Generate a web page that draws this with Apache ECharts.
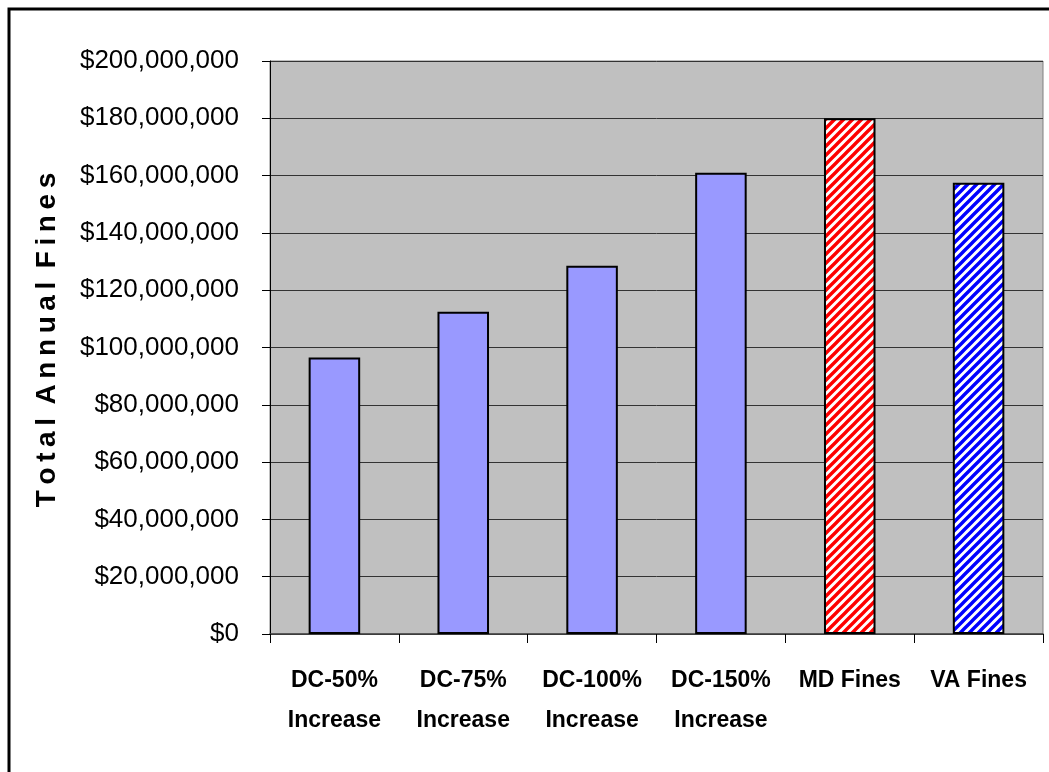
<!DOCTYPE html>
<html>
<head>
<meta charset="utf-8">
<script src="https://cdn.jsdelivr.net/npm/echarts@6/dist/echarts.min.js"></script>
<style>
  html, body { margin: 0; padding: 0; background: #ffffff; }
  #chart { width: 1049px; height: 772px; }
</style>
</head>
<body>
<div id="chart"></div>
<script>
// Scenario names shown under each bar
const categories = [
  'DC-50%\nIncrease',
  'DC-75%\nIncrease',
  'DC-100%\nIncrease',
  'DC-150%\nIncrease',
  'MD Fines',
  'VA Fines'
];
// Total annual fines per scenario, in dollars
const fines = [96500000, 112500000, 128500000, 161000000, 180000000, 157500000];
// Value axis range and step
const yMin = 0;
const yMax = 200000000;
const yStep = 20000000;
// Axis title, letter-spaced with thin spaces
const yTitle = 'Total Annual Fines';

function spaced(s) {
  return s.split(' ').map(w => w.split('').join('\u2009')).join(' \u2009');
}

// Diagonal-stripe fill tile ("/" hatch)
function stripeTile(color) {
  const size = 9;
  const c = document.createElement('canvas');
  c.width = size; c.height = size;
  const g = c.getContext('2d');
  g.fillStyle = '#ffffff';
  g.fillRect(0, 0, size, size);
  g.strokeStyle = color;
  g.lineWidth = 3.4;
  g.beginPath();
  g.moveTo(-size, size * 2); g.lineTo(size * 2, -size);
  g.moveTo(-size, size); g.lineTo(size, -size);
  g.moveTo(0, size * 2); g.lineTo(size * 2, 0);
  g.stroke();
  return { image: c, repeat: 'repeat' };
}

const fills = [
  '#9999FF', '#9999FF', '#9999FF', '#9999FF',
  stripeTile('#FF0000'),
  stripeTile('#0000FF')
];

function money(v) {
  return '$' + Math.round(v).toString().replace(/\B(?=(\d{3})+(?!\d))/g, ',');
}

const sans = '"Liberation Sans", Arial, sans-serif';

const chart = echarts.init(document.getElementById('chart'), null, { renderer: 'canvas' });
chart.setOption({
  animation: false,
  backgroundColor: '#ffffff',
  graphic: [
    {
      type: 'rect',
      shape: { x: 9, y: 9, width: 1200, height: 900 },
      style: { fill: 'none', stroke: '#000000', lineWidth: 3 },
      z: 0
    },
    {
      type: 'text',
      x: 47, y: 340,
      rotation: Math.PI / 2,
      style: {
        text: spaced(yTitle),
        font: 'bold 28px ' + sans,
        fill: '#000000',
        align: 'center',
        verticalAlign: 'middle'
      }
    }
  ],
  grid: {
    left: 270, right: 6, top: 61, bottom: 138,
    show: true,
    backgroundColor: '#C0C0C0',
    borderColor: '#808080',
    borderWidth: 1
  },
  xAxis: {
    type: 'category',
    data: categories,
    axisLine: { show: true, lineStyle: { color: '#404040', width: 1.5 } },
    axisTick: { show: true, length: 9, alignWithLabel: false, lineStyle: { color: '#000000', width: 1 } },
    axisLabel: {
      interval: 0,
      margin: 27,
      color: '#000000',
      fontFamily: sans,
      fontWeight: 'bold',
      fontSize: 23,
      lineHeight: 40
    }
  },
  yAxis: {
    type: 'value',
    min: yMin, max: yMax, interval: yStep,
    axisLine: { show: true, lineStyle: { color: '#000000', width: 1 } },
    axisTick: { show: true, length: 8, lineStyle: { color: '#000000' } },
    splitLine: { show: true, lineStyle: { color: '#333333', width: 1 } },
    axisLabel: {
      margin: 31,
      color: '#000000',
      fontFamily: sans,
      fontSize: 26,
      formatter: money
    }
  },
  series: [{
    type: 'bar',
    data: fines.map((v, i) => ({
      value: v,
      itemStyle: { color: fills[i] }
    })),
    barWidth: '40%',
    itemStyle: { borderColor: '#000000', borderWidth: 2 }
  }]
});
</script>
</body>
</html>
